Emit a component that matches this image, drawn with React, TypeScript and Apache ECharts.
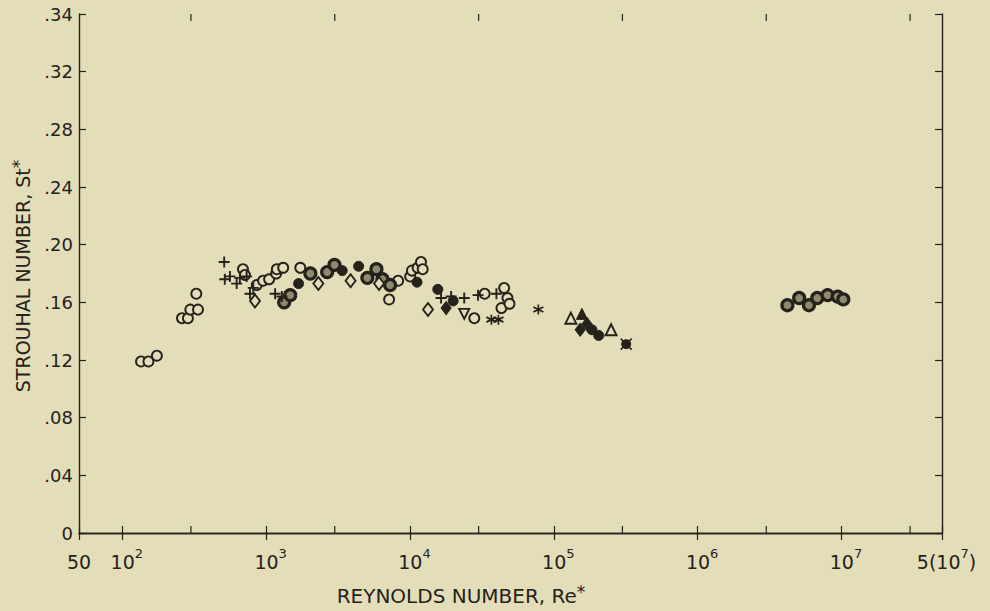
import React, { useEffect, useRef } from 'react';
import * as echarts from 'echarts';

const INK = '#24221a';
const BG = '#e4ddba';
const FONT = 'DejaVu Sans';

// Axis ticks and labels
const xTickValues = [50, 1e2, 1e3, 1e4, 1e5, 1e6, 1e7, 5e7];
const xTickLabels = ['50', '10^2', '10^3', '10^4', '10^5', '10^6', '10^7', '5(10^7)'];
const xMinorTicks = [3e2, 3e3, 3e4, 3e5, 3e6, 3e7];
const yTickValues = [0, 0.04, 0.08, 0.12, 0.16, 0.2, 0.24, 0.28, 0.32, 0.36];
const yTickLabels = ['0', '.04', '.08', '.12', '.16', '.20', '.24', '.28', '.32', '.34'];
const xAxisTitle = 'REYNOLDS NUMBER, Re';
const yAxisTitle = 'STROUHAL NUMBER, St';

// Data: [Re, St]
const openCircles: [number, number][] = [
  [135, 0.119], [152, 0.119], [174, 0.123],
  [260, 0.149], [286, 0.149], [297, 0.155], [336, 0.155], [327, 0.166],
  [690, 0.183], [712, 0.179], [860, 0.172], [952, 0.175], [1049, 0.176],
  [1174, 0.18], [1187, 0.183], [1314, 0.184], [1728, 0.184],
  [7160, 0.162], [8277, 0.175], [10040, 0.178], [10320, 0.182],
  [11310, 0.184], [11930, 0.188], [12260, 0.183],
  [28010, 0.149], [33060, 0.166], [43250, 0.156], [45170, 0.17], [47640, 0.163], [49200, 0.159],
];
const solidCircles: [number, number][] = [
  [1681, 0.173], [3381, 0.182], [4395, 0.185], [11190, 0.174], [15610, 0.169],
  [19970, 0.161], [184200, 0.141], [205300, 0.137],
];
const dottedCircles: [number, number][] = [
  [1335, 0.16], [1471, 0.165], [2030, 0.18], [2656, 0.181], [2987, 0.186],
  [5057, 0.177], [5846, 0.183], [6439, 0.176], [7277, 0.172],
  [4.21e6, 0.158], [5.08e6, 0.163], [5.94e6, 0.158], [6.79e6, 0.163],
  [8.01e6, 0.165], [9.41e6, 0.164], [1.03e7, 0.162],
];
const crosses: [number, number][] = [
  [511, 0.188], [516, 0.176], [560, 0.178], [624, 0.173], [657, 0.177], [732, 0.178],
  [772, 0.166], [814, 0.17], [1155, 0.166], [1287, 0.164],
  [16460, 0.163], [19340, 0.164], [23840, 0.163], [29730, 0.165], [39910, 0.166],
];
const openDiamonds: [number, number][] = [
  [837, 0.161], [2308, 0.173], [3865, 0.175], [6095, 0.173], [13350, 0.155],
];
const solidDiamonds: [number, number][] = [
  [17840, 0.156], [152600, 0.141], [170000, 0.145],
];
const invertedTriangles: [number, number][] = [[23840, 0.152]];
const asterisks: [number, number][] = [[36820, 0.148], [41210, 0.148], [78100, 0.155]];
const openTriangles: [number, number][] = [[131400, 0.149], [250200, 0.141]];
const solidTriangles: [number, number][] = [[156800, 0.152]];
const crossedCircles: [number, number][] = [[318600, 0.131]];

const toRich = (label: string) => {
  const m = label.match(/^(.*?)\^(\d+)(.*)$/);
  if (!m) return '{n|' + label + '}';
  return '{p| }{n|' + m[1] + '}{s|' + m[2] + '}' + (m[3] ? '{n|' + m[3] + '}' : '');
};

const PLUS = 'path://M5 0V10M0 5H10';
const STAR = 'path://M5 0V10M0.7 2.5L9.3 7.5M0.7 7.5L9.3 2.5';
const XMARK = 'path://M0 0L10 10M10 0L0 10';

export default function App() {
  const ref = useRef<HTMLDivElement>(null);
  useEffect(() => {
    if (!ref.current) return;
    const chart = echarts.init(ref.current, undefined, { renderer: 'svg' });

    const xFormatter = (v: number) => {
      const lv = Math.log10(v);
      for (let i = 0; i < xTickValues.length; i++) {
        if (Math.abs(Math.log10(xTickValues[i]) - lv) < 0.01) return toRich(xTickLabels[i]);
      }
      return '';
    };
    const yFormatter = (v: number) => {
      for (let i = 0; i < yTickValues.length; i++) {
        if (Math.abs(yTickValues[i] - v) < 1e-6) return yTickLabels[i];
      }
      return '';
    };

    const open = { color: BG, borderColor: INK, borderWidth: 1.9, opacity: 1 };
    const stroke = { color: 'rgba(0,0,0,0)', borderColor: INK, borderWidth: 1.9, opacity: 1 };
    const solid = { color: INK, borderColor: INK, borderWidth: 1, opacity: 1 };

    const sc = (data: [number, number][], symbol: string, size: any, itemStyle: any, extra: any = {}) => ({
      type: 'scatter',
      data,
      symbol,
      symbolSize: size,
      itemStyle,
      silent: true,
      xAxisIndex: 0,
      yAxisIndex: 0,
      ...extra,
    });

    const axisLineStyle = { color: INK, width: 1.4 };

    chart.setOption({
      animation: false,
      backgroundColor: BG,
      grid: { left: 79, right: 48, top: 14, bottom: 78, containLabel: false, outerBoundsMode: 'none' },
      xAxis: [
        {
          type: 'log',
          logBase: 10,
          min: 50,
          max: 5e7,
          position: 'bottom',
          axisLine: { show: true, lineStyle: axisLineStyle },
          axisTick: { show: true, inside: true, length: 7, lineStyle: { color: INK, width: 1.2 } },
          splitLine: { show: false },
          axisLabel: {
            show: true,
            margin: 14,
            formatter: xFormatter,
            color: INK,
            rich: {
              n: { fontSize: 19, fontFamily: FONT, color: INK, lineHeight: 30 },
              s: { fontSize: 13, fontFamily: FONT, color: INK, lineHeight: 4, verticalAlign: 'top' },
              p: { fontSize: 13, fontFamily: FONT, width: 9, lineHeight: 30 },
            },
          },
        },
        {
          type: 'log',
          logBase: 10,
          min: 50,
          max: 5e7,
          position: 'top',
          axisLine: { show: true, lineStyle: axisLineStyle },
          axisTick: { show: true, inside: true, length: 7, lineStyle: { color: INK, width: 1.2 } },
          splitLine: { show: false },
          axisLabel: { show: false },
        },
      ],
      yAxis: [
        {
          type: 'value',
          min: 0,
          max: 0.36,
          interval: 0.04,
          position: 'left',
          axisLine: { show: true, lineStyle: axisLineStyle },
          axisTick: { show: true, inside: true, length: 7, lineStyle: { color: INK, width: 1.2 } },
          splitLine: { show: false },
          axisLabel: { margin: 6, formatter: yFormatter, color: INK, fontSize: 18, fontFamily: FONT },
        },
        {
          type: 'value',
          min: 0,
          max: 0.36,
          interval: 0.04,
          position: 'right',
          axisLine: { show: true, lineStyle: axisLineStyle },
          axisTick: { show: true, inside: true, length: 7, lineStyle: { color: INK, width: 1.2 } },
          splitLine: { show: false },
          axisLabel: { show: false },
        },
      ],
      graphic: [
        {
          type: 'text',
          x: 461,
          y: 596,
          style: {
            text: '{a|' + xAxisTitle + '}{s|*}',
            align: 'center',
            verticalAlign: 'middle',
            fill: INK,
            rich: {
              a: { fontSize: 20, fontFamily: FONT, fill: INK, lineHeight: 26 },
              s: { fontSize: 17, fontFamily: FONT, fill: INK, lineHeight: 6, verticalAlign: 'top' },
            },
          },
        },
        {
          type: 'text',
          x: 23,
          y: 276,
          rotation: Math.PI / 2,
          style: {
            text: '{a|' + yAxisTitle + '}{s|*}',
            align: 'center',
            verticalAlign: 'middle',
            fill: INK,
            rich: {
              a: { fontSize: 19, fontFamily: FONT, fill: INK, lineHeight: 26 },
              s: { fontSize: 17, fontFamily: FONT, fill: INK, lineHeight: 6, verticalAlign: 'top' },
            },
          },
        },
      ],
      series: [
        {
          type: 'custom',
          silent: true,
          xAxisIndex: 0,
          yAxisIndex: 0,
          data: xMinorTicks.map((v) => [v, 0]),
          renderItem: (params: any, api: any) => {
            const v = api.value(0);
            const b = api.coord([v, 0]);
            const t = api.coord([v, 0.36]);
            const ls = { stroke: INK, lineWidth: 1.2 };
            return {
              type: 'group',
              children: [
                { type: 'line', shape: { x1: b[0], y1: b[1], x2: b[0], y2: b[1] - 7 }, style: ls },
                { type: 'line', shape: { x1: t[0], y1: t[1], x2: t[0], y2: t[1] + 7 }, style: ls },
              ],
            };
          },
        },
        sc(openCircles, 'circle', 10, open),
        sc(dottedCircles, 'circle', 11, { color: '#8f8a6c', borderColor: INK, borderWidth: 3.2, opacity: 1 }),
        sc(solidCircles, 'circle', 10, solid),
        sc(crosses, PLUS, 11, stroke),
        sc(openDiamonds, 'diamond', [10, 13], open),
        sc(solidDiamonds, 'diamond', [10, 13], solid),
        sc(invertedTriangles, 'triangle', 10, open, { symbolRotate: 180 }),
        sc(asterisks, STAR, 10, { color: 'rgba(0,0,0,0)', borderColor: INK, borderWidth: 1.7, opacity: 1 }),
        sc(openTriangles, 'triangle', 11, open),
        sc(solidTriangles, 'triangle', 11, solid),
        sc(crossedCircles, 'circle', 9, solid),
        sc(crossedCircles, XMARK, 11, { color: 'rgba(0,0,0,0)', borderColor: INK, borderWidth: 1.5, opacity: 1 }),
      ],
    });
    return () => chart.dispose();
  }, []);

  return (
    <div
      ref={ref}
      style={{ position: 'fixed', left: 0, top: 0, width: 990, height: 611, background: BG }}
    />
  );
}
